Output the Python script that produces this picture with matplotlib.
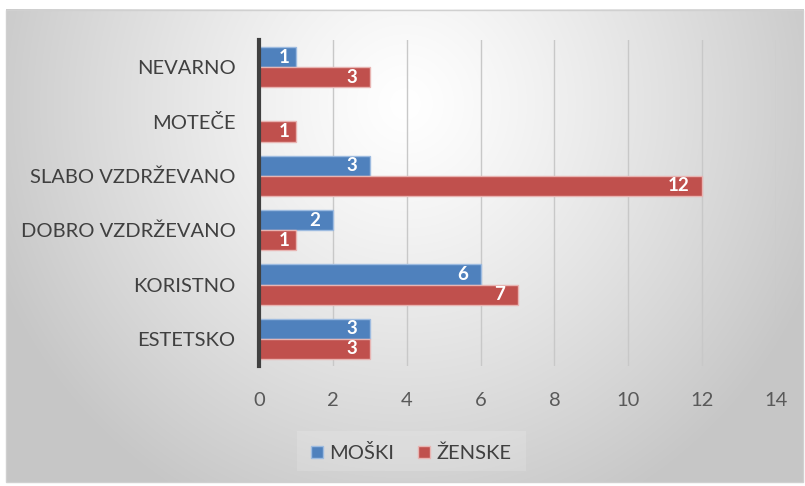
import numpy as np
from matplotlib import pyplot as plt
from matplotlib.patches import Rectangle

plt.rcParams['font.family'] = ['Lato', 'DejaVu Sans']

categories = ['ESTETSKO', 'KORISTNO', 'DOBRO VZDRŽEVANO', 'SLABO VZDRŽEVANO', 'MOTEČE', 'NEVARNO']
moski = [3, 6, 2, 3, 0, 1]
zenske = [3, 7, 1, 12, 1, 3]
x_ticks = [0, 2, 4, 6, 8, 10, 12, 14]

fig = plt.figure(figsize=(8.05, 4.86), dpi=100)

# background with radial gradient
bg = fig.add_axes([0, 0, 1, 1])
bg.set_xlim(0, 805)
bg.set_ylim(486, 0)
bg.axis('off')
h, w = 472, 797
yy, xx = np.mgrid[0:h, 0:w]
r = np.sqrt(((xx - w * 0.5) / (w * 0.55)) ** 2 + ((yy - h * 0.2) / (h * 0.95)) ** 2)
val = 1 - 0.22 * np.clip(r, 0, 1) ** 1.2
img = np.dstack([val, val, val])
bg.imshow(img, extent=(6, 803, 482, 10), aspect='auto', interpolation='bilinear')
bg.add_patch(Rectangle((6, 10), 797, 472, fill=False, ec='#D0D0D0', lw=1))
bg.add_patch(Rectangle((297, 431), 229, 40, fc='white', ec='none', alpha=0.15))

ax = fig.add_axes([259 / 805, 1 - 366 / 486, (776 - 259) / 805, (366 - 40) / 486])
ax.patch.set_alpha(0)

y = np.arange(len(categories))
bh = 0.37
b1 = ax.barh(y + bh / 2, moski, height=bh, color='#4F81BD', edgecolor='#9DBBE0', lw=1, label='MOŠKI', zorder=3)
b2 = ax.barh(y - bh / 2, zenske, height=bh, color='#C0504D', edgecolor='#E8B4B2', lw=1, label='ŽENSKE', zorder=3)

for bars, vals in ((b1, moski), (b2, zenske)):
    for b, v in zip(bars, vals):
        if v == 0:
            continue
        off = 0.35 if v > 1 else 0.18
        ax.text(v - off, b.get_y() + b.get_height() / 2, str(v), ha='right', va='center',
                color='white', fontsize=13.5, fontweight='bold', zorder=4)

ax.set_xlim(0, 14)
ax.set_ylim(-0.5, 5.5)
ax.set_xticks(x_ticks)
ax.set_yticks(y)
ax.set_yticklabels(categories)
ax.tick_params(axis='y', length=0, pad=17, labelsize=14.5, labelcolor='#404040')
ax.tick_params(axis='x', length=0, pad=19, labelsize=14.5, labelcolor='#595959')
ax.grid(axis='x', color='#C8C8C8', lw=1, zorder=0)
for s in ['top', 'right', 'bottom']:
    ax.spines[s].set_visible(False)
ax.spines['left'].set_color('#404040')
ax.spines['left'].set_linewidth(3)
ax.spines['left'].set_zorder(5)

fig.legend(handles=[b1, b2], loc='center', bbox_to_anchor=(411 / 805, 1 - 453 / 486), ncol=2,
           frameon=False, fontsize=14.5, handlelength=0.6, handleheight=0.6, handletextpad=0.3,
           columnspacing=1.2, labelcolor='#404040')

fig.savefig('out.png', dpi=100)
